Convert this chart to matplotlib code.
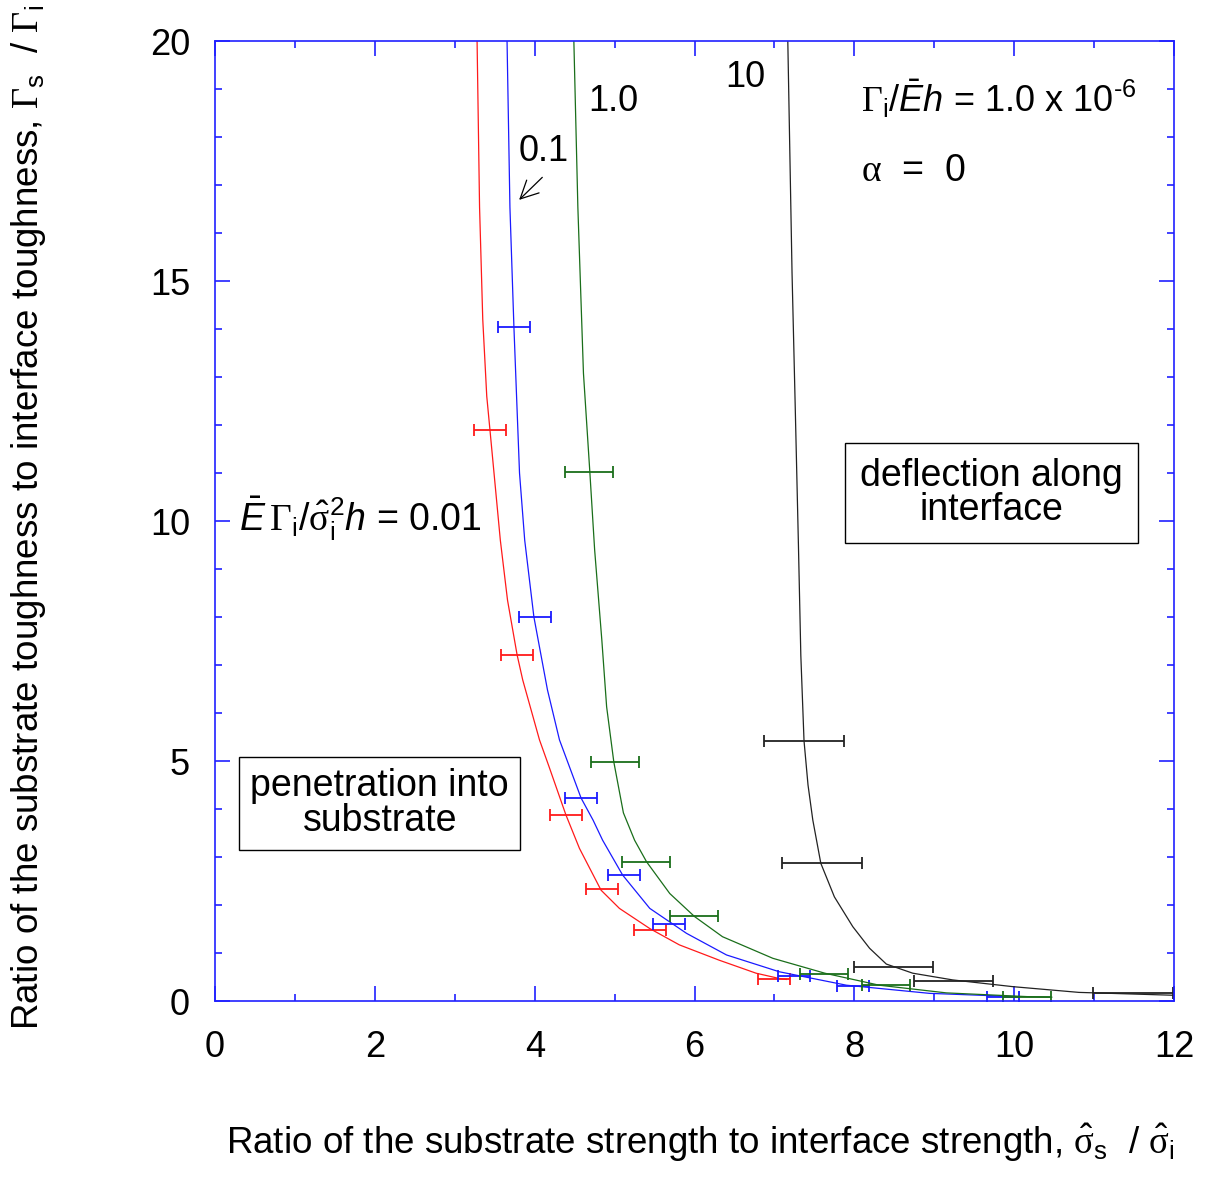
import matplotlib
matplotlib.use("Agg")
import matplotlib.pyplot as plt
from matplotlib.ticker import MultipleLocator

plt.rcParams['font.family'] = 'Liberation Sans'
plt.rcParams['mathtext.fontset'] = 'custom'
plt.rcParams['mathtext.rm'] = 'Liberation Sans'
plt.rcParams['mathtext.it'] = 'Liberation Sans:italic'
plt.rcParams['mathtext.cal'] = 'Liberation Serif'

# curves, one per value of E*Gamma_i/(sigma_i^2 h)
red_x = [3.279, 3.31, 3.35, 3.40, 3.44, 3.57, 3.66, 3.78, 3.85, 4.06, 4.18, 4.39, 4.56, 4.83, 5.06,
         5.44, 5.81, 6.31, 6.77, 7.06, 7.15]
red_y = [20, 16.54, 14.2, 12.6, 11.9, 9.6, 8.35, 7.21, 6.69, 5.44, 4.88, 3.88, 3.18, 2.31, 1.93,
         1.51, 1.17, 0.85, 0.58, 0.47, 0.45]

blue_x = [3.654, 3.69, 3.74, 3.78, 3.81, 3.875, 3.99, 4.16, 4.31, 4.58, 4.73, 4.85, 5.10, 5.44, 5.90,
          6.40, 7.06, 7.90, 8.94, 10.06]
blue_y = [20, 16.54, 14.04, 12.3, 11.0, 9.6, 8.0, 6.48, 5.44, 4.23, 3.77, 3.35, 2.625, 1.93, 1.41,
          0.96, 0.61, 0.33, 0.16, 0.09]

green_x = [4.49, 4.54, 4.61, 4.69, 4.75, 4.84, 4.9, 4.99, 5.11, 5.25, 5.40, 5.69, 6.0, 6.35,
           6.98, 7.63, 8.31, 9.15, 10.19, 10.47]
green_y = [20, 16.54, 13.08, 11.02, 9.4, 7.52, 6.13, 4.98, 3.92, 3.35, 2.90, 2.24, 1.76, 1.34,
           0.89, 0.58, 0.33, 0.17, 0.09, 0.08]

black_x = [7.167, 7.22, 7.26, 7.30, 7.33, 7.37, 7.42, 7.48, 7.58, 7.75, 7.98, 8.19, 8.40, 8.73, 9.23,
           9.98, 10.81, 12.0]
black_y = [20, 15.17, 12.375, 9.5, 7.2, 5.42, 4.5, 3.77, 2.87, 2.17, 1.55, 1.10, 0.77, 0.58, 0.44,
           0.30, 0.18, 0.12]

# error bars
red_ex = [3.44, 3.78, 4.39, 4.84, 5.44, 6.99]
red_ey = [11.9, 7.21, 3.88, 2.33, 1.48, 0.46]
red_err = 0.2

blue_ex = [3.74, 4.0, 4.58, 5.12, 5.68, 7.24, 7.985, 9.86]
blue_ey = [14.04, 8.0, 4.23, 2.625, 1.61, 0.53, 0.32, 0.09]
blue_err = 0.2

green_ex = [4.68, 5.0, 5.39, 5.99, 7.62, 8.39, 10.16]
green_ey = [11.02, 4.98, 2.90, 1.78, 0.56, 0.33, 0.08]
green_err = 0.3

black_ex = [7.37, 7.59, 8.49, 9.24, 11.49]
black_ey = [5.42, 2.87, 0.71, 0.42, 0.16]
black_err = 0.5

c_red = '#ff1a1a'
c_blue = '#1a1aff'
c_green = '#1a6e1a'
c_black = '#222222'
c_axis = '#2020ff'

fig = plt.figure(figsize=(12.06, 11.82), dpi=100)
ax = fig.add_axes([0.1783, 0.1531, 0.7952, 0.8122])

for xs, ys, ex, ey, err, c in [(red_x, red_y, red_ex, red_ey, red_err, c_red),
                               (blue_x, blue_y, blue_ex, blue_ey, blue_err, c_blue),
                               (green_x, green_y, green_ex, green_ey, green_err, c_green),
                               (black_x, black_y, black_ex, black_ey, black_err, c_black)]:
    ax.plot(xs, ys, color=c, lw=0.9)
    ax.errorbar(ex, ey, xerr=err, fmt='none', ecolor=c, elinewidth=1.3,
                capsize=4, capthick=1.3)

ax.set_xlim(0, 12)
ax.set_ylim(0, 20)
ax.xaxis.set_major_locator(MultipleLocator(2))
ax.xaxis.set_minor_locator(MultipleLocator(1))
ax.yaxis.set_major_locator(MultipleLocator(5))
ax.yaxis.set_minor_locator(MultipleLocator(1))
ax.tick_params(which='both', direction='in', top=True, right=True, color=c_axis, width=1.2)
ax.tick_params(which='major', length=11)
ax.tick_params(which='minor', length=5)
ax.tick_params(axis='x', which='major', labelsize=26, pad=21)
ax.tick_params(axis='y', which='major', labelsize=26, pad=18)
for s in ax.spines.values():
    s.set_color(c_axis)
    s.set_linewidth(1.2)

fig.text(0.5806, 0.033,
         r'Ratio of the substrate strength to interface strength, $\hat{\mathcal{\sigma}}_{\mathrm{s}}\ \ /\ \hat{\mathcal{\sigma}}_{\mathrm{i}}$',
         fontsize=26.5, ha='center', va='center')
fig.text(0.024, 0.5626,
         r'Ratio of the substrate toughness to interface toughness, $\mathcal{\Gamma}_{\mathrm{s}}\ \ /\ \mathcal{\Gamma}_{\mathrm{i}}$',
         fontsize=26.5, ha='center', va='center', rotation=90)

ax.text(4.11, 17.7, '0.1', fontsize=26, ha='center', va='center')
ax.text(4.98, 18.75, '1.0', fontsize=26, ha='center', va='center')
ax.text(6.64, 19.23, '10', fontsize=26, ha='center', va='center')
ax.annotate('', xy=(3.78, 16.65), xytext=(4.12, 17.2),
            arrowprops=dict(arrowstyle='->', color='black', lw=0.9, mutation_scale=32))

ax.text(8.08, 18.8, r'$\mathcal{\Gamma}_{\mathrm{i}}/\bar{E}h$ = 1.0 x 10$^{\mathrm{' + '\u2010' + '6}}$',
        fontsize=26, ha='left', va='center')
ax.text(8.08, 17.3, r'$\mathcal{\alpha}$  =  0', fontsize=27, ha='left', va='center')
ax.text(0.3, 10.06, r'$\bar{E}\,\mathcal{\Gamma}_{\mathrm{i}}/\hat{\mathcal{\sigma}}_{\mathrm{i}}^{2}h$ = 0.01',
        fontsize=27, ha='left', va='center')

ax.text(9.72, 10.58, 'deflection along\ninterface', fontsize=27, ha='center', va='center',
        linespacing=0.95, bbox=dict(boxstyle='square,pad=0.4', fc='white', ec='black', lw=1))
ax.text(2.06, 4.12, 'penetration into\nsubstrate', fontsize=27, ha='center', va='center',
        linespacing=0.95, bbox=dict(boxstyle='square,pad=0.3', fc='white', ec='black', lw=1))

fig.savefig('out.png', dpi=100)
